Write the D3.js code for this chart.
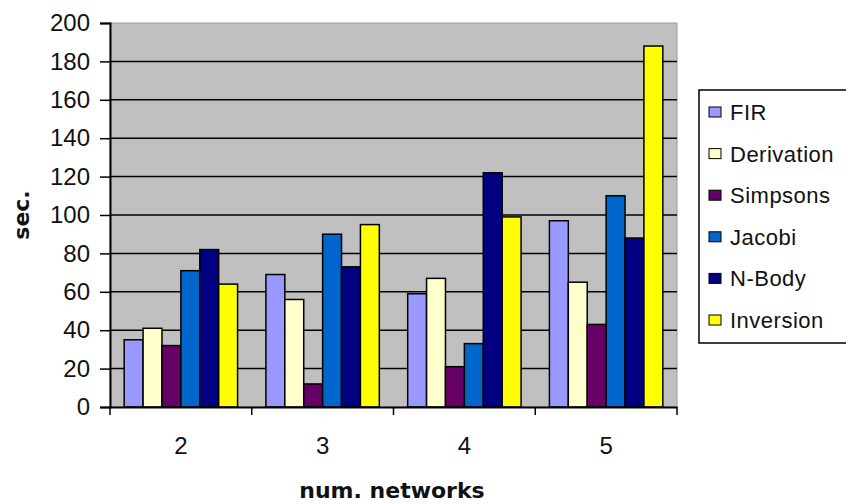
<!DOCTYPE html>
<html>
<head>
<meta charset="utf-8">
<script src="https://cdn.jsdelivr.net/npm/d3@7"></script>
<style>
  body { margin: 0; background: #fff; }
  svg { display: block; }
</style>
</head>
<body>
<svg id="chart" width="846" height="504"></svg>
<script>
const categories = ["2", "3", "4", "5"];
const seriesNames = ["FIR", "Derivation", "Simpsons", "Jacobi", "N-Body", "Inversion"];
const FIR        = [35, 69, 59, 97];
const Derivation = [41, 56, 67, 65];
const Simpsons   = [32, 12, 21, 43];
const Jacobi     = [71, 90, 33, 110];
const NBody      = [82, 73, 122, 88];
const Inversion  = [64, 95, 99, 188];
const seriesValues = [FIR, Derivation, Simpsons, Jacobi, NBody, Inversion];
const yTicks = [0, 20, 40, 60, 80, 100, 120, 140, 160, 180, 200];
const colors = ["#9999FF", "#FFFFCC", "#660066", "#0066CC", "#000080", "#FFFF00"];

const svg = d3.select("#chart");
const L = 110, R = 677, T = 23, B = 407;

const y = d3.scaleLinear().domain([0, 200]).range([B, T]);
const x0 = d3.scaleBand().domain(categories).range([L, R]).paddingInner(0.2).paddingOuter(0.1);
const x1 = d3.scaleBand().domain(seriesNames).range([0, x0.bandwidth()]);
const color = d3.scaleOrdinal().domain(seriesNames).range(colors);

// plot background
svg.append("rect").attr("x", L).attr("y", T).attr("width", R - L).attr("height", B - T)
  .attr("fill", "#C0C0C0").attr("stroke", "#9a9a9a").attr("stroke-width", 1);

// gridlines
svg.append("g").selectAll("line").data(yTicks.filter(d => d > 0 && d < 200)).join("line")
  .attr("x1", L).attr("x2", R).attr("y1", d => y(d)).attr("y2", d => y(d))
  .attr("stroke", "#000").attr("stroke-width", 1.5);

// bars
const groups = svg.append("g").selectAll("g").data(categories).join("g")
  .attr("transform", c => `translate(${x0(c)},0)`);
groups.selectAll("rect")
  .data((c, i) => seriesNames.map((s, j) => ({ s, v: seriesValues[j][i] })))
  .join("rect")
  .attr("x", d => x1(d.s)).attr("width", x1.bandwidth())
  .attr("y", d => y(d.v)).attr("height", d => y(0) - y(d.v))
  .attr("fill", d => color(d.s)).attr("stroke", "#000").attr("stroke-width", 1.5);

// y axis
const yAxis = svg.append("g").attr("transform", `translate(${L},0)`)
  .call(d3.axisLeft(y).tickValues(yTicks).tickSize(10).tickPadding(10));
yAxis.select(".domain").attr("stroke", "#000").attr("stroke-width", 2);
yAxis.selectAll(".tick line").attr("stroke", "#000").attr("stroke-width", 1.5);
yAxis.selectAll("text").attr("font-family", "Liberation Sans, Arial, sans-serif")
  .attr("font-size", 24).attr("fill", "#111");

// x axis
const xAxis = svg.append("g").attr("transform", `translate(0,${B})`)
  .call(d3.axisBottom(x0).tickSize(0).tickPadding(30));
xAxis.select(".domain").attr("stroke", "#000").attr("stroke-width", 2);
xAxis.selectAll("text").attr("font-family", "Liberation Sans, Arial, sans-serif")
  .attr("font-size", 24).attr("fill", "#111");
const step = x0.step();
const boundaries = categories.map(c => x0(c) - step * 0.1).concat([x0(categories[categories.length - 1]) + x0.bandwidth() + step * 0.1]);
xAxis.selectAll(".bt").data(boundaries).join("line").attr("class", "bt")
  .attr("x1", d => d).attr("x2", d => d).attr("y1", 0).attr("y2", 8)
  .attr("stroke", "#000").attr("stroke-width", 1.5);

// axis titles
svg.append("text").attr("transform", "translate(29,215) rotate(-90)")
  .attr("text-anchor", "middle").attr("font-family", "DejaVu Sans, Verdana, sans-serif")
  .attr("font-weight", "bold").attr("font-size", 22).attr("fill", "#111").text("sec.");
svg.append("text").attr("x", 392).attr("y", 498)
  .attr("text-anchor", "middle").attr("font-family", "DejaVu Sans, Verdana, sans-serif")
  .attr("font-weight", "bold").attr("font-size", 22).attr("fill", "#111").text("num. networks");

// legend
const lg = svg.append("g");
lg.append("rect").attr("x", 699).attr("y", 90).attr("width", 160).attr("height", 253)
  .attr("fill", "#fff").attr("stroke", "#000").attr("stroke-width", 1.5);
const items = lg.selectAll("g").data(seriesNames).join("g")
  .attr("transform", (d, i) => `translate(0,${112 + i * 41.6})`);
items.append("rect").attr("x", 709).attr("y", -5).attr("width", 12).attr("height", 10)
  .attr("fill", d => color(d)).attr("stroke", "#000").attr("stroke-width", 1);
items.append("text").attr("x", 730).attr("y", 8)
  .attr("font-family", "Liberation Sans, Arial, sans-serif").attr("font-size", 22)
  .attr("letter-spacing", 0.5).attr("fill", "#111").text(d => d);
</script>
</body>
</html>
